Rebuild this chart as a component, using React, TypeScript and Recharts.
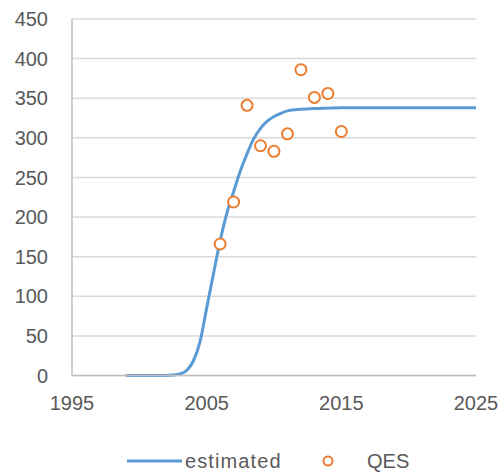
import { ComposedChart, Line, Scatter, XAxis, YAxis, CartesianGrid } from 'recharts';

// estimated curve
const estYears = [1999, 2000, 2001, 2002, 2002.5, 2003, 2003.5, 2004, 2004.5, 2005, 2005.5, 2006, 2006.5, 2007, 2007.5, 2008, 2008.5, 2009, 2009.5, 2010, 2010.5, 2011, 2012, 2013, 2014, 2015, 2017, 2020, 2025];
const estValues = [0, 0, 0, 0, 0.5, 2, 6, 18, 42, 85, 128, 170, 205, 232, 258, 280, 299, 312, 321, 327, 331, 334, 336, 337, 337.5, 338, 338, 338, 338];

// QES observations
const qesYears = [2006, 2007, 2008, 2009, 2010, 2011, 2012, 2013, 2014, 2015];
const qesValues = [166, 219, 341, 290, 283, 305, 386, 351, 356, 308];

const xTicks = [1995, 2005, 2015, 2025];
const yTicks = [0, 50, 100, 150, 200, 250, 300, 350, 400, 450];

const estData = estYears.map((x, i) => ({ x, y: estValues[i] }));
const qesData = qesYears.map((x, i) => ({ x, y: qesValues[i] }));

const BLUE = '#5b9bd5';
const ORANGE = '#ed7d31';
const TEXT = '#595959';
const FONT = '"Liberation Sans", Arial, sans-serif';

const OpenCircle = (props: any) => {
  const { cx, cy } = props;
  return <circle cx={cx} cy={cy} r={5.5} fill="#fff" stroke={ORANGE} strokeWidth={2} />;
};

const App = () => {
  return (
    <div style={{ position: 'absolute', left: 0, top: 0, width: 503, height: 475, background: '#fff', fontFamily: FONT }}>
      <ComposedChart width={503} height={475} margin={{ top: 19, right: 27, left: 0, bottom: 59.5 }}>
        <CartesianGrid vertical={false} stroke="#d9d9d9" strokeWidth={1.5} />
        <XAxis
          dataKey="x"
          type="number"
          domain={[1995, 2025]}
          ticks={xTicks}
          height={40}
          tickLine={false}
          tickSize={0}
          tickMargin={20}
          axisLine={{ stroke: '#bfbfbf', strokeWidth: 1.5 }}
          tick={{ fill: TEXT, fontSize: 20, fontFamily: FONT }}
        />
        <YAxis
          dataKey="y"
          type="number"
          domain={[0, 450]}
          ticks={yTicks}
          width={72}
          tickLine={false}
          tickSize={0}
          tickMargin={24}
          axisLine={{ stroke: '#bfbfbf', strokeWidth: 1.5 }}
          tick={{ fill: TEXT, fontSize: 20, fontFamily: FONT }}
        />
        <Line
          data={estData}
          dataKey="y"
          type="monotone"
          stroke={BLUE}
          strokeWidth={3}
          dot={false}
          isAnimationActive={false}
        />
        <Scatter data={qesData} dataKey="y" shape={OpenCircle} isAnimationActive={false} />
      </ComposedChart>
      {/* legend */}
      <svg style={{ position: 'absolute', left: 0, top: 446 }} width={503} height={29}>
        <line x1={127} y1={15} x2={182} y2={15} stroke={BLUE} strokeWidth={3} />
        <text x={185} y={22} fill={TEXT} fontSize={20} fontFamily={FONT} letterSpacing={1.1}>estimated</text>
        <circle cx={328} cy={15} r={4.5} fill="#fff" stroke={ORANGE} strokeWidth={2} />
        <text x={367} y={22} fill={TEXT} fontSize={20} fontFamily={FONT}>QES</text>
      </svg>
    </div>
  );
};

export default App;
